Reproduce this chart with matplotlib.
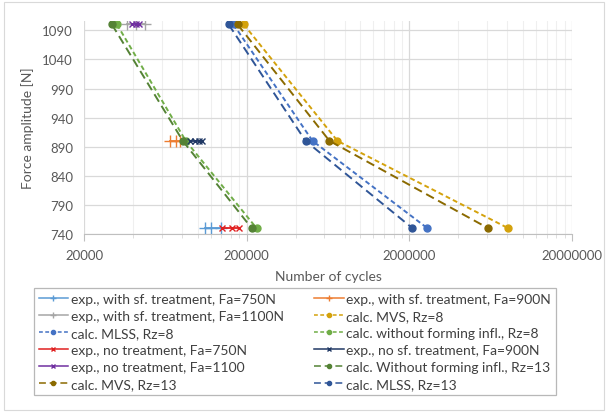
import numpy as np
import matplotlib
matplotlib.use("Agg")
import matplotlib.pyplot as plt
from matplotlib.ticker import FixedLocator, NullFormatter
from matplotlib.patches import Rectangle

plt.rcParams['font.family'] = ['Lato', 'DejaVu Sans']

# --- data ---
force_calc = [1100, 900, 750]
mvs_rz8 = [192000, 723000, 8100000]
mvs_rz13 = [176000, 646000, 6100000]
mlss_rz8 = [166000, 508000, 2580000]
mlss_rz13 = [155000, 460000, 2090000]
wfi_rz8 = [31900, 84500, 230000]
wfi_rz13 = [29700, 81000, 214600]

sf_750 = [110600, 120000, 138600]
sf_900 = [67400, 73400, 77600]
sf_1100 = [36700, 41700, 47300]
nt_750 = [142000, 162000, 178600]
nt_900 = [89400, 96000, 101600, 107000]
nt_1100 = [39400, 41700, 43500]

x_ticks = [20000, 200000, 2000000, 20000000]
x_tick_labels = ["20000", "200000", "2000000", "20000000"]
y_ticks = [740, 790, 840, 890, 940, 990, 1040, 1090]

fig = plt.figure(figsize=(6.08, 4.14), dpi=100)
ax = fig.add_axes([84/608, 1-235/414, (572-84)/608, (235-22)/414])

short_dash = (0, (2.5, 1.6))
long_dash = (0, (4.5, 2.5))

h = {}
h[1] = ax.plot(sf_750, [750]*len(sf_750), color='#5B9BD5', marker='+', ms=8, lw=1.3,
               label='exp., with sf. treatment, Fa=750N')[0]
h[2] = ax.plot(sf_900, [900]*len(sf_900), color='#ED7D31', marker='+', ms=8, lw=1.3,
               label='exp., with sf. treatment, Fa=900N')[0]
h[3] = ax.plot(sf_1100, [1100]*len(sf_1100), color='#A5A5A5', marker='+', ms=8, lw=1.3,
               label='exp., with sf. treatment, Fa=1100N')[0]
h[4] = ax.plot(mvs_rz8, force_calc, color='#D4A20C', marker='o', ms=5, lw=1.4, ls=short_dash,
               label='calc. MVS, Rz=8')[0]
h[5] = ax.plot(mlss_rz8, force_calc, color='#4472C4', marker='o', ms=5, lw=1.4, ls=short_dash,
               label='calc. MLSS, Rz=8')[0]
h[6] = ax.plot(wfi_rz8, force_calc, color='#70AD47', marker='o', ms=5, lw=1.4, ls=short_dash,
               label='calc. without forming infl., Rz=8')[0]
h[7] = ax.plot(nt_750, [750]*len(nt_750), color='#E02020', marker='x', ms=5, lw=1.3,
               label='exp., no treatment, Fa=750N')[0]
h[8] = ax.plot(nt_900, [900]*len(nt_900), color='#203864', marker='x', ms=5, lw=1.3,
               label='exp., no sf. treatment, Fa=900N')[0]
h[9] = ax.plot(nt_1100, [1100]*len(nt_1100), color='#7030A0', marker='x', ms=5, lw=1.3,
               label='exp., no treatment, Fa=1100')[0]
h[10] = ax.plot(wfi_rz13, force_calc, color='#548235', marker='o', ms=5, lw=1.4, ls=long_dash,
                label='calc. Without forming infl., Rz=13')[0]
h[11] = ax.plot(mvs_rz13, force_calc, color='#8B6A00', marker='o', ms=5, lw=1.4, ls=long_dash,
                label='calc. MVS, Rz=13')[0]
h[12] = ax.plot(mlss_rz13, force_calc, color='#2F5597', marker='o', ms=5, lw=1.4, ls=long_dash,
                label='calc. MLSS, Rz=13')[0]

ax.set_xscale('log')
ax.set_xlim(20000, 20000000)
ax.set_ylim(740, 1106)

ax.xaxis.set_major_locator(FixedLocator(x_ticks))
ax.set_xticklabels(x_tick_labels)
minors = [20000 * 10**k * s for k in range(3) for s in range(2, 10)]
ax.xaxis.set_minor_locator(FixedLocator(minors))
ax.xaxis.set_minor_formatter(NullFormatter())
ax.set_yticks(y_ticks)

ax.grid(which='major', color='#D9D9D9', lw=0.9)
ax.grid(which='minor', axis='x', color='#EFEFEF', lw=0.8)
ax.set_axisbelow(True)
for s in ['top', 'right', 'left']:
    ax.spines[s].set_visible(False)
ax.spines['bottom'].set_color('#BFBFBF')
ax.tick_params(axis='x', which='major', length=5, color='#BFBFBF', labelsize=9.5,
               labelcolor='#595959', pad=6)
ax.tick_params(axis='x', which='minor', length=3, color='#D9D9D9')
ax.tick_params(axis='y', length=0, labelsize=9.5, labelcolor='#595959', pad=8)

ax.set_xlabel('Number of cycles', fontsize=10, color='#595959', labelpad=6)
ax.set_ylabel('Force amplitude [N]', fontsize=10, color='#595959', labelpad=6)

# column-major order for matplotlib so it reads like the row-major legend
order = [1, 3, 5, 7, 9, 11, 2, 4, 6, 8, 10, 12]
leg = fig.legend([h[i] for i in order], [h[i].get_label() for i in order],
                 ncol=2, loc='upper left', bbox_to_anchor=(34/608, 1-289/414),
                 fontsize=10, frameon=True, fancybox=False, handlelength=2.1,
                 handletextpad=0.2, columnspacing=2.2, labelspacing=0.36,
                 borderpad=0.35, borderaxespad=0, markerscale=0.6)
leg.get_frame().set_edgecolor('#A6A6A6')
leg.get_frame().set_linewidth(0.9)
for t in leg.get_texts():
    t.set_color('#404040')
for line in leg.get_lines():
    line.set_linewidth(1.1)

fig.patches.append(Rectangle((4/608, 3/414), 600/608, 408/414, transform=fig.transFigure,
                             fill=False, edgecolor='#D9D9D9', lw=0.8))

fig.savefig('out.png', dpi=100)
